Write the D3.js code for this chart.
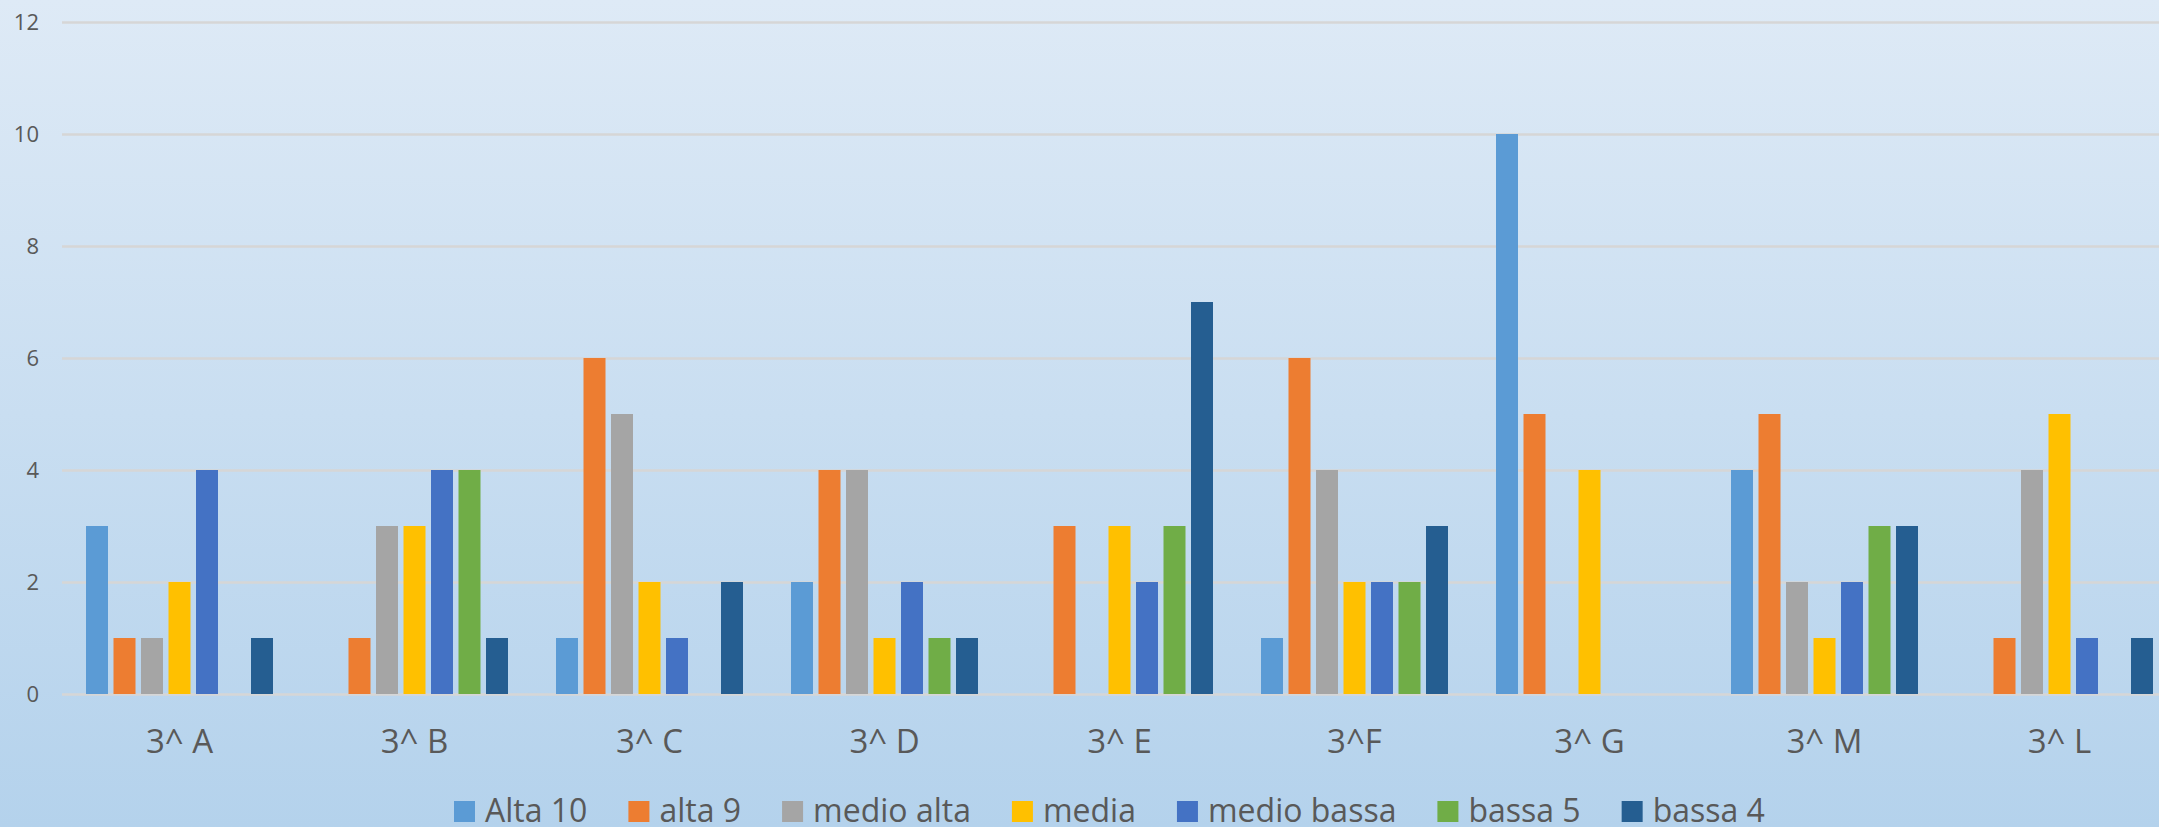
<!DOCTYPE html>
<html>
<head>
<meta charset="utf-8">
<script src="https://cdn.jsdelivr.net/npm/d3@7"></script>
<style>
  html, body { margin: 0; padding: 0; overflow: hidden; }
  svg { display: block; font-family: "Open Sans", "Noto Sans", sans-serif; }
</style>
</head>
<body>
<div id="app"></div>
<script>
const classes = ["3^ A", "3^ B", "3^ C", "3^ D", "3^ E", "3^F", "3^ G", "3^ M", "3^ L"];
const series = ["Alta 10", "alta 9", "medio alta", "media", "medio bassa", "bassa 5", "bassa 4"];
const colors = ["#5b9bd5", "#ed7d31", "#a5a5a5", "#ffc000", "#4472c4", "#70ad47", "#255e91"];

const alta10 = [3, 0, 1, 2, 0, 1, 10, 4, 0];
const alta9 = [1, 1, 6, 4, 3, 6, 5, 5, 1];
const medioAlta = [1, 3, 5, 4, 0, 4, 0, 2, 4];
const media = [2, 3, 2, 1, 3, 2, 4, 1, 5];
const medioBassa = [4, 4, 1, 2, 2, 2, 0, 2, 1];
const bassa5 = [0, 4, 0, 1, 3, 2, 0, 3, 0];
const bassa4 = [1, 1, 2, 1, 7, 3, 0, 3, 1];

const yTicks = [0, 2, 4, 6, 8, 10, 12];

const values = [alta10, alta9, medioAlta, media, medioBassa, bassa5, bassa4];

const width = 2159;
const height = 827;
const plotLeft = 62;
const plotRight = 2177; // plot area runs past the cropped edge
const plotTop = 22;
const plotBottom = 694;

const svg = d3.select("#app")
  .append("svg")
  .attr("width", width)
  .attr("height", height);

const grad = svg.append("defs")
  .append("linearGradient")
  .attr("id", "bg")
  .attr("x1", 0).attr("y1", 0).attr("x2", 0).attr("y2", 1);
grad.append("stop").attr("offset", "0%").attr("stop-color", "#deeaf6");
grad.append("stop").attr("offset", "100%").attr("stop-color", "#b4d2ec");

svg.append("rect")
  .attr("width", width)
  .attr("height", height)
  .attr("fill", "url(#bg)");

const x0 = d3.scaleBand()
  .domain(classes)
  .range([plotLeft, plotRight]);

const groupPad = 24;
const x1 = d3.scaleBand()
  .domain(series)
  .range([groupPad, x0.bandwidth() - groupPad])
  .paddingInner(0.2);

const y = d3.scaleLinear()
  .domain([0, 12])
  .range([plotBottom, plotTop]);

// gridlines + y labels
const yAxis = d3.axisLeft(y)
  .tickValues(yTicks)
  .tickSize(-(plotRight - plotLeft))
  .tickPadding(23);

const gy = svg.append("g")
  .attr("transform", `translate(${plotLeft},0)`)
  .call(yAxis);
gy.select(".domain").remove();
gy.selectAll(".tick line")
  .attr("stroke", "#d6d6d6")
  .attr("stroke-width", 2.5);
gy.selectAll(".tick text")
  .attr("fill", "#595959")
  .style("font-size", "22px")
  .style("font-family", "'Open Sans', sans-serif");

// bars
const groups = svg.append("g")
  .selectAll("g")
  .data(classes)
  .join("g")
  .attr("transform", d => `translate(${x0(d)},0)`);

groups.selectAll("rect")
  .data((c, i) => series.map((s, k) => ({ s, k, v: values[k][i] })).filter(d => d.v > 0))
  .join("rect")
  .attr("x", d => x1(d.s))
  .attr("y", d => y(d.v))
  .attr("width", x1.bandwidth())
  .attr("height", d => y(0) - y(d.v))
  .attr("fill", d => colors[d.k]);

// x labels
const xAxis = d3.axisBottom(x0).tickSize(0).tickPadding(36);
const gx = svg.append("g")
  .attr("transform", `translate(0,${plotBottom})`)
  .call(xAxis);
gx.select(".domain").remove();
gx.selectAll(".tick text")
  .attr("fill", "#595959")
  .style("font-size", "33px")
  .style("font-family", "'Open Sans', sans-serif");

// legend
const legend = svg.append("g").attr("transform", "translate(454,811)");
let lx = 0;
series.forEach((s, k) => {
  legend.append("rect")
    .attr("x", lx)
    .attr("y", -10)
    .attr("width", 21)
    .attr("height", 21)
    .attr("fill", colors[k]);
  const t = legend.append("text")
    .attr("x", lx + 31)
    .attr("y", 11)
    .attr("fill", "#595959")
    .style("font-size", "32px")
    .text(s);
  lx += 31 + t.node().getComputedTextLength() + 41;
});
</script>
</body>
</html>
